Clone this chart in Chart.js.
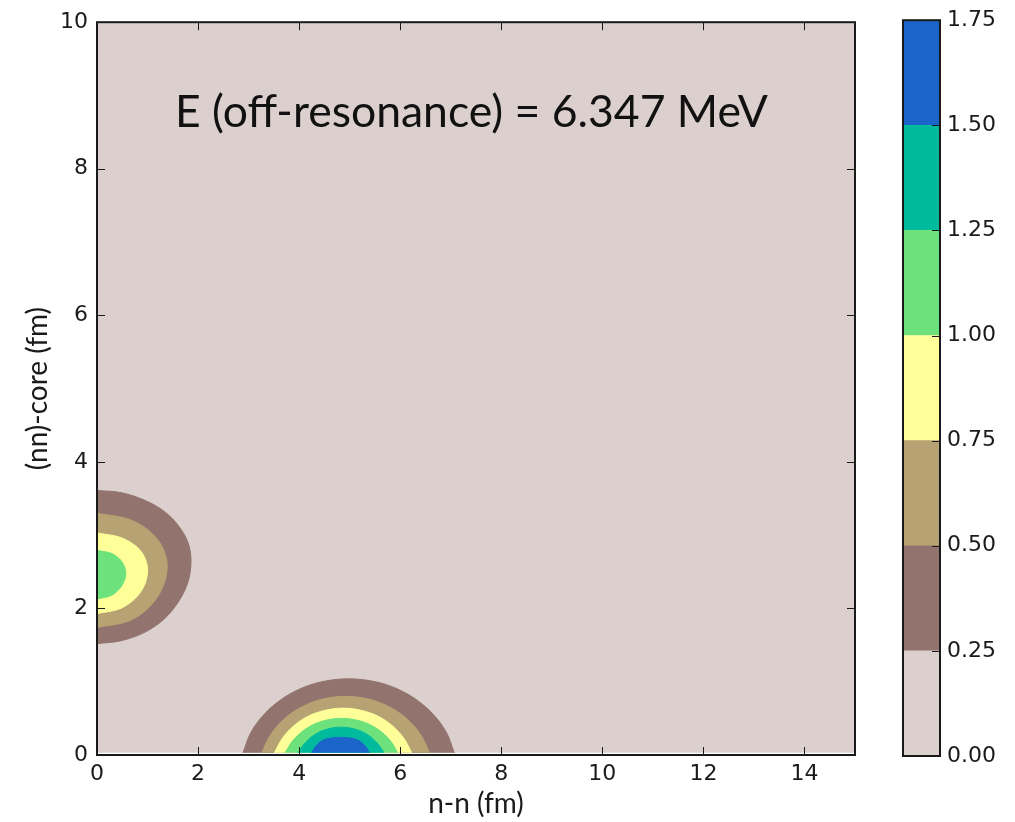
<!DOCTYPE html>
<html>
<head>
<meta charset="utf-8">
<script src="https://cdn.jsdelivr.net/npm/chart.js@4.4.0/dist/chart.umd.min.js"></script>
<style>
  html, body { margin: 0; padding: 0; background: #fff; }
  #wrap { position: relative; width: 1015px; height: 822px; overflow: hidden; }
  #main { position: absolute; left: 0; top: 0; }
  #cbar { position: absolute; left: 880px; top: 0; }
  #title { position: absolute; left: 175px; top: 83px; white-space: nowrap;
           font: 44.5px Lato, sans-serif; line-height: normal; color: #111; }
</style>
</head>
<body>
<div id="wrap">
  <canvas id="main" width="880" height="822"></canvas>
  <canvas id="cbar" width="135" height="822"></canvas>
  <div id="title">E (off-resonance) = 6.347 MeV</div>
</div>
<script>
// contour levels + terrain_r colours, one colour per band
const levels = [0, 0.25, 0.5, 0.75, 1.0, 1.25, 1.5, 1.75];
const bandColors = ['#dbd0ce', '#92736d', '#b6a272', '#ffff99', '#6de27c', '#00ba9d', '#1b64ca'];

const xTicks = [0, 2, 4, 6, 8, 10, 12, 14];
const yTicks = [0, 2, 4, 6, 8, 10];

// whole field (lowest band)
const fieldEdge = [[0, 0.03], [0, 10], [15, 10], [15, 0.03]];

// blob on the (nn)-core axis, x = 0 — contour edges
const coreA1 = [[0, 3.61], [0.48, 3.58], [0.93, 3.48], [1.32, 3.33], [1.61, 3.13], [1.80, 2.90], [1.86, 2.65],
                [1.80, 2.36], [1.61, 2.09], [1.32, 1.85], [0.93, 1.67], [0.48, 1.56], [0, 1.52]];
const coreA2 = [[0, 3.30], [0.70, 3.20], [1.20, 2.94], [1.39, 2.58], [1.20, 2.16], [0.70, 1.85], [0, 1.74]];
const coreA3 = [[0, 3.03], [0.50, 2.96], [0.87, 2.78], [1.00, 2.52], [0.87, 2.23], [0.50, 2.01], [0, 1.93]];
const coreA4 = [[0, 2.79], [0.29, 2.75], [0.49, 2.64], [0.57, 2.48], [0.49, 2.31], [0.29, 2.18], [0, 2.13]];

// blob on the n-n axis, y = 0
const nnB1 = [[2.89, 0.03], [3.04, 0.30], [3.30, 0.55], [3.63, 0.75], [4.01, 0.90], [4.45, 1.00], [4.98, 1.04],
              [5.51, 1.00], [5.95, 0.90], [6.33, 0.75], [6.66, 0.55], [6.92, 0.30], [7.07, 0.03]];
const nnB2 = [[3.26, 0.03], [3.41, 0.25], [3.64, 0.45], [3.91, 0.60], [4.26, 0.72], [4.58, 0.78], [4.92, 0.80],
              [5.26, 0.78], [5.58, 0.72], [5.93, 0.60], [6.20, 0.45], [6.43, 0.25], [6.58, 0.03]];
const nnB3 = [[3.51, 0.03], [3.69, 0.25], [3.99, 0.45], [4.36, 0.58], [4.87, 0.64], [5.38, 0.58], [5.75, 0.45], [6.05, 0.25], [6.23, 0.03]];
const nnB4 = [[3.72, 0.03], [3.88, 0.20], [4.14, 0.36], [4.45, 0.46], [4.84, 0.50], [5.23, 0.46], [5.54, 0.36], [5.80, 0.20], [5.95, 0.03]];
const nnB5 = [[3.98, 0.03], [4.10, 0.15], [4.29, 0.27], [4.54, 0.35], [4.83, 0.38], [5.12, 0.35], [5.37, 0.27], [5.56, 0.15], [5.68, 0.03]];
const nnB6 = [[4.25, 0.03], [4.33, 0.12], [4.50, 0.21], [4.82, 0.24], [5.14, 0.21], [5.31, 0.12], [5.39, 0.03]];

// [edge, band index]
const layers = [
  [fieldEdge, 0],
  [coreA1, 1], [coreA2, 2], [coreA3, 3], [coreA4, 4],
  [nnB1, 1], [nnB2, 2], [nnB3, 3], [nnB4, 4], [nnB5, 5], [nnB6, 6],
];

const INK = '#1a1a1a';
Chart.defaults.font.family = "'DejaVu Sans', sans-serif";
Chart.defaults.font.size = 22;
Chart.defaults.color = INK;

// matplotlib style frame + inward ticks on all four sides
const frameTicks = {
  id: 'frameTicks',
  afterDraw(chart) {
    const { ctx, chartArea: a, scales: { x, y } } = chart;
    ctx.save();
    ctx.strokeStyle = INK;
    ctx.lineWidth = 1;
    ctx.beginPath();
    xTicks.forEach(v => {
      const px = Math.round(x.getPixelForValue(v)) + 0.5;
      ctx.moveTo(px, a.bottom); ctx.lineTo(px, a.bottom - 8);
      ctx.moveTo(px, a.top); ctx.lineTo(px, a.top + 8);
    });
    yTicks.forEach(v => {
      const py = Math.round(y.getPixelForValue(v)) + 0.5;
      ctx.moveTo(a.left, py); ctx.lineTo(a.left + 8, py);
      ctx.moveTo(a.right, py); ctx.lineTo(a.right - 8, py);
    });
    ctx.stroke();
    ctx.lineWidth = 2;
    ctx.strokeRect(a.left, a.top, a.right - a.left, a.bottom - a.top);
    ctx.restore();
  }
};

const datasets = layers.map(([edge, k]) => ({
  data: edge.map(([x, y]) => ({ x, y })),
  showLine: true,
  fill: 'shape',
  backgroundColor: bandColors[k],
  borderColor: bandColors[k],
  borderWidth: 1,
  pointRadius: 0,
  tension: edge === fieldEdge ? 0 : 0.35,
  order: 10 - k,
}));

new Chart(document.getElementById('main'), {
  type: 'scatter',
  data: { datasets },
  options: {
    responsive: false,
    animation: false,
    devicePixelRatio: 1,
    layout: { padding: { top: 19, right: 25, left: 0, bottom: 0 } },
    plugins: { legend: { display: false }, tooltip: { enabled: false } },
    scales: {
      x: {
        type: 'linear', min: 0, max: 15,
        afterBuildTicks: s => { s.ticks = xTicks.map(v => ({ value: v })); },
        afterFit: s => { s.height = 67; },
        ticks: { padding: 6, color: INK },
        grid: { display: false, drawTicks: false },
        border: { display: false },
        title: { display: true, text: 'n-n (fm)', color: INK,
                 font: { family: 'Lato', size: 28 }, padding: { top: 0, bottom: 1 } },
      },
      y: {
        type: 'linear', min: 0, max: 10,
        afterBuildTicks: s => { s.ticks = yTicks.map(v => ({ value: v })); },
        afterFit: s => { s.width = 97; },
        ticks: { padding: 9, color: INK },
        grid: { display: false, drawTicks: false },
        border: { display: false },
        title: { display: true, text: '(nn)-core (fm)', color: INK,
                 font: { family: 'Lato', size: 28 }, padding: { top: 21, bottom: 0 } },
      },
    },
  },
  plugins: [frameTicks],
});

// colour bar
const cbarFrame = {
  id: 'cbarFrame',
  afterDraw(chart) {
    const { ctx, chartArea: a, scales: { y } } = chart;
    ctx.save();
    ctx.strokeStyle = INK;
    ctx.lineWidth = 1;
    ctx.beginPath();
    levels.forEach(v => {
      const py = Math.round(y.getPixelForValue(v)) + 0.5;
      ctx.moveTo(a.right, py); ctx.lineTo(a.right - 8, py);
    });
    ctx.stroke();
    ctx.lineWidth = 2;
    ctx.strokeRect(a.left, a.top, a.right - a.left, a.bottom - a.top);
    ctx.restore();
  }
};

new Chart(document.getElementById('cbar'), {
  type: 'bar',
  data: {
    labels: [''],
    datasets: bandColors.map((c, i) => ({
      data: [[levels[i], levels[i + 1]]],
      backgroundColor: c,
      borderWidth: 0,
      barPercentage: 1,
      categoryPercentage: 1,
      grouped: false,
    })),
  },
  options: {
    responsive: false,
    animation: false,
    devicePixelRatio: 1,
    layout: { padding: { top: 19, left: 23, right: 0, bottom: 66 } },
    plugins: { legend: { display: false }, tooltip: { enabled: false } },
    scales: {
      x: { display: false },
      y: {
        position: 'right', min: 0, max: 1.75,
        afterBuildTicks: s => { s.ticks = levels.map(v => ({ value: v })); },
        afterFit: s => { s.width = 75; },
        ticks: { padding: 7, color: INK, callback: v => Number(v).toFixed(2) },
        grid: { display: false, drawTicks: false },
        border: { display: false },
      },
    },
  },
  plugins: [cbarFrame],
});
</script>
</body>
</html>
